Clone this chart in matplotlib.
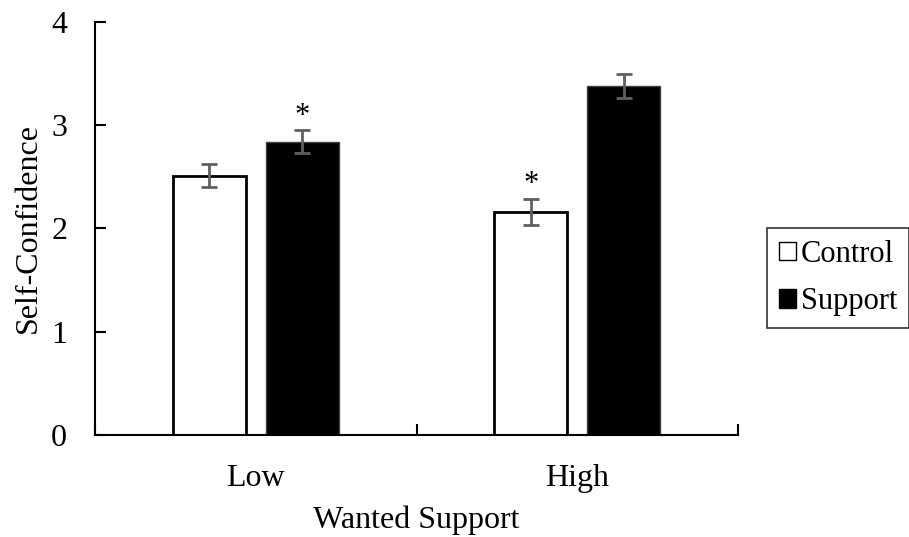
import matplotlib.pyplot as plt
from matplotlib.patches import Patch
import numpy as np

# data
groups = ["Low", "High"]
control_means = [2.51, 2.16]
control_err = [0.11, 0.13]
support_means = [2.84, 3.38]
support_err = [0.11, 0.12]
control_star = [False, True]
support_star = [True, False]

plt.rcParams['font.family'] = ['Liberation Serif', 'DejaVu Serif']
plt.rcParams['font.size'] = 23

fig = plt.figure(figsize=(9.09, 5.37), dpi=100)
ax = fig.add_axes([0.1045, 0.19, 0.7075, 0.769])

x = np.arange(len(groups))
width = 0.227
offset = 0.145
err_style = dict(ecolor='#5f5f5f', elinewidth=2, capsize=6, capthick=2)

ax.bar(x - offset, control_means, width, color='white', edgecolor='black',
       linewidth=2, yerr=control_err, error_kw=err_style, zorder=2)
ax.bar(x + offset, support_means, width, color='black', edgecolor='#404040',
       linewidth=1, yerr=support_err, error_kw=err_style, zorder=2)

# significance markers
for i in range(len(groups)):
    if control_star[i]:
        ax.text(x[i] - offset, control_means[i] + control_err[i] + 0.06, '*',
                ha='center', va='baseline', fontsize=22)
    if support_star[i]:
        ax.text(x[i] + offset, support_means[i] + support_err[i] + 0.06, '*',
                ha='center', va='baseline', fontsize=22)

ax.set_xlim(-0.5, len(groups) - 0.5)
ax.set_ylim(0, 4)
ax.set_yticks([0, 1, 2, 3, 4])
ax.set_xticks(x)
ax.set_xticklabels(groups)
ax.set_xticks(np.arange(len(groups) + 1) - 0.5, minor=True)
ax.tick_params(axis='x', which='major', length=0, pad=21)
ax.tick_params(axis='x', which='minor', direction='in', length=8, width=1.5)
ax.tick_params(axis='y', direction='in', length=8, width=1.5, pad=20)

for s in ['top', 'right']:
    ax.spines[s].set_visible(False)
for s in ['left', 'bottom']:
    ax.spines[s].set_linewidth(1.5)

ax.set_ylabel('Self-Confidence', labelpad=6)
ax.set_xlabel('Wanted Support', labelpad=9)

# legend sits outside the axes, on the right
handles = [Patch(facecolor='white', edgecolor='black', linewidth=1),
           Patch(facecolor='black', edgecolor='black', linewidth=1)]
leg = ax.legend(handles, ['Control', 'Support'], loc='center left',
                bbox_to_anchor=(1.045, 0.38), borderaxespad=0, frameon=True,
                fancybox=False, edgecolor='black', fontsize=22,
                handlelength=0.55, handleheight=0.55, handletextpad=0.15,
                labelspacing=0.6, borderpad=0.4)
leg.get_frame().set_linewidth(1.2)

fig.savefig('out.png', dpi=100)
